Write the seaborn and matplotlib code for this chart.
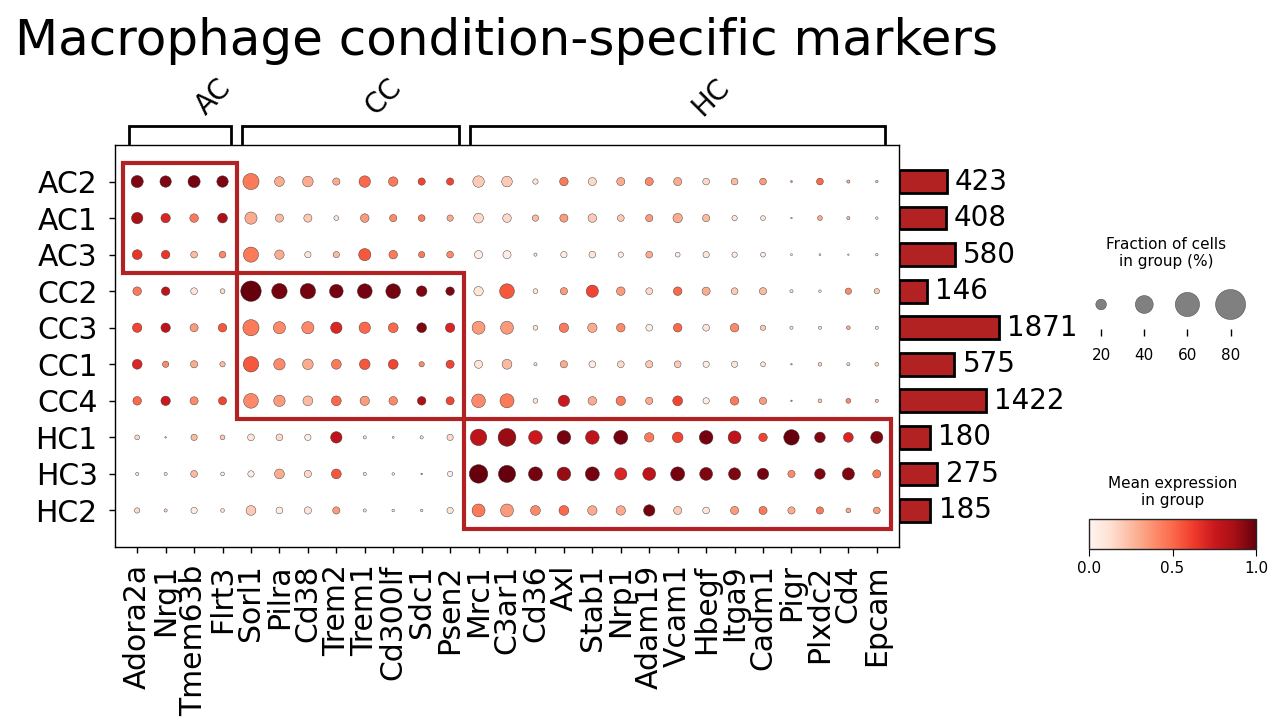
import numpy as np
import pandas as pd
import matplotlib
matplotlib.use('Agg')
import matplotlib.pyplot as plt
import matplotlib.patches as mpatches
import seaborn as sns

#----------------- data -----------------
genes = ['Adora2a', 'Nrg1', 'Tmem63b', 'Flrt3',
         'Sorl1', 'Pilra', 'Cd38', 'Trem2', 'Trem1', 'Cd300lf', 'Sdc1', 'Psen2',
         'Mrc1', 'C3ar1', 'Cd36', 'Axl', 'Stab1', 'Nrp1', 'Adam19', 'Vcam1',
         'Hbegf', 'Itga9', 'Cadm1', 'Pigr', 'Plxdc2', 'Cd4', 'Epcam']
gene_groups = ['AC', 'CC', 'HC']
gene_group_sizes = [4, 8, 15]

cell_groups = ['AC2', 'AC1', 'AC3', 'CC2', 'CC3', 'CC1', 'CC4', 'HC1', 'HC3', 'HC2']
cell_group_sizes = [3, 4, 3]
cell_counts = [423, 408, 580, 146, 1871, 575, 1422, 180, 275, 185]

# mean expression (scaled 0-1)
expr = [
    [0.95, 0.95, 0.97, 0.95, 0.45, 0.30, 0.30, 0.30, 0.50, 0.45, 0.60, 0.60, 0.20, 0.20, 0.10, 0.45, 0.15, 0.30, 0.40, 0.30, 0.15, 0.25, 0.35, 0.40, 0.50, 0.30, 0.20],
    [0.85, 0.70, 0.45, 0.85, 0.30, 0.25, 0.20, 0.10, 0.35, 0.40, 0.45, 0.30, 0.15, 0.15, 0.25, 0.35, 0.20, 0.20, 0.35, 0.30, 0.25, 0.10, 0.10, 0.20, 0.30, 0.25, 0.10],
    [0.65, 0.65, 0.25, 0.40, 0.45, 0.30, 0.10, 0.25, 0.55, 0.45, 0.45, 0.40, 0.05, 0.05, 0.10, 0.05, 0.10, 0.05, 0.30, 0.05, 0.10, 0.05, 0.05, 0.10, 0.10, 0.10, 0.10],
    [0.45, 0.80, 0.10, 0.15, 1.00, 0.97, 0.97, 0.97, 0.97, 0.97, 0.95, 0.95, 0.10, 0.55, 0.10, 0.35, 0.60, 0.35, 0.15, 0.50, 0.30, 0.20, 0.25, 0.10, 0.10, 0.40, 0.20],
    [0.60, 0.80, 0.35, 0.55, 0.45, 0.40, 0.40, 0.70, 0.50, 0.50, 0.95, 0.70, 0.35, 0.35, 0.10, 0.45, 0.30, 0.40, 0.05, 0.50, 0.10, 0.40, 0.20, 0.10, 0.10, 0.30, 0.10],
    [0.70, 0.40, 0.30, 0.25, 0.55, 0.40, 0.30, 0.45, 0.55, 0.60, 0.40, 0.60, 0.10, 0.25, 0.10, 0.30, 0.05, 0.15, 0.20, 0.20, 0.05, 0.10, 0.10, 0.30, 0.15, 0.15, 0.15],
    [0.50, 0.75, 0.40, 0.60, 0.40, 0.35, 0.25, 0.50, 0.35, 0.40, 0.85, 0.60, 0.40, 0.45, 0.10, 0.75, 0.30, 0.45, 0.30, 0.60, 0.05, 0.45, 0.35, 0.40, 0.20, 0.40, 0.20],
    [0.15, 0.30, 0.25, 0.20, 0.10, 0.15, 0.05, 0.80, 0.10, 0.10, 0.10, 0.15, 0.80, 0.90, 0.75, 0.97, 0.80, 0.97, 0.45, 0.60, 0.97, 0.80, 0.60, 1.00, 0.95, 0.70, 0.95],
    [0.10, 0.10, 0.25, 0.05, 0.05, 0.30, 0.15, 0.55, 0.10, 0.10, 0.50, 0.05, 1.00, 1.00, 0.97, 0.90, 0.97, 0.70, 0.80, 0.97, 0.95, 0.95, 0.97, 0.40, 0.95, 0.95, 0.45],
    [0.15, 0.15, 0.05, 0.10, 0.20, 0.05, 0.10, 0.35, 0.10, 0.10, 0.10, 0.10, 0.45, 0.35, 0.40, 0.50, 0.30, 0.30, 0.97, 0.20, 0.10, 0.35, 0.45, 0.30, 0.45, 0.30, 0.35],
]

# fraction of cells in group (%)
frac = [
    [24, 22, 24, 22, 35, 18, 20, 12, 22, 17, 12, 12, 22, 20, 8, 15, 14, 14, 14, 14, 11, 11, 11, 2, 11, 4, 3],
    [22, 17, 15, 18, 24, 14, 14, 7, 15, 12, 11, 10, 18, 15, 10, 14, 15, 11, 12, 17, 12, 8, 7, 1.5, 7, 4, 3],
    [18, 15, 11, 11, 32, 17, 10, 10, 24, 15, 10, 11, 14, 14, 4, 10, 11, 8, 11, 7, 10, 8, 7, 2, 2, 1.5, 3],
    [15, 15, 11, 7, 48, 33, 33, 28, 31, 31, 20, 15, 17, 31, 7, 12, 24, 15, 11, 15, 14, 11, 12, 4, 3, 10, 8],
    [17, 17, 14, 15, 35, 24, 24, 22, 22, 18, 18, 17, 26, 26, 7, 17, 17, 15, 11, 15, 11, 15, 8, 4, 4, 5, 4],
    [18, 10, 12, 8, 33, 22, 20, 18, 20, 18, 8, 14, 14, 18, 4, 12, 11, 11, 12, 11, 10, 10, 7, 1.5, 5, 4, 5],
    [15, 17, 14, 14, 31, 22, 18, 18, 17, 15, 15, 14, 28, 29, 7, 22, 15, 17, 12, 18, 10, 15, 12, 1.5, 5, 7, 4],
    [7, 1.5, 10, 7, 11, 11, 10, 22, 4, 2, 4, 10, 36, 40, 28, 28, 28, 29, 17, 20, 28, 26, 15, 33, 20, 18, 24],
    [4, 4, 11, 5, 10, 18, 12, 18, 4, 3, 1.5, 8, 42, 38, 29, 28, 29, 24, 26, 29, 26, 24, 22, 12, 20, 24, 14],
    [8, 4, 10, 5, 18, 11, 12, 12, 4, 3, 3, 10, 26, 26, 18, 18, 17, 17, 22, 14, 11, 14, 14, 12, 12, 7, 11],
]

legend_fracs = [20, 40, 60, 80]

#----------------- helpers -----------------
MAX_AREA = 467.0   # marker area (pt^2) of an 80% dot


def dot_area(f):
    return MAX_AREA * (np.asarray(f, dtype=float) / 80.0) ** 1.5


# long table for seaborn
rows = []
for r, cg in enumerate(cell_groups):
    for c, g in enumerate(genes):
        rows.append({'gene': g, 'group': cg, 'x': c + 0.5, 'y': r + 0.5,
                     'expr': expr[r][c], 'frac': frac[r][c]})
df = pd.DataFrame(rows)
df['area'] = dot_area(df['frac'])

sns.set_style('white')
plt.rcParams['font.family'] = ['DejaVu Sans']
plt.rcParams['text.color'] = 'black'
plt.rcParams['axes.labelcolor'] = 'black'
plt.rcParams['xtick.color'] = 'black'
plt.rcParams['ytick.color'] = 'black'

W, H = 1285, 725
fig = plt.figure(figsize=(W / 100, H / 100), dpi=100)


def px_axes(x0, y0, x1, y1):
    # pixel box (top-left origin) -> figure axes
    return fig.add_axes([x0 / W, 1 - y1 / H, (x1 - x0) / W, (y1 - y0) / H])


#----------------- main dot plot -----------------
ax = px_axes(115, 145, 899, 547)
sns.scatterplot(data=df, x='x', y='y', hue='expr', size='area',
                palette='Reds', hue_norm=(0, 1),
                sizes=(0, MAX_AREA), size_norm=(0, MAX_AREA),
                edgecolor='#333333', linewidth=0.3, legend=False, ax=ax, zorder=3)
n_genes = len(genes)
n_rows = len(cell_groups)
ax.set_xlim(-0.28, n_genes + 0.28)
ax.set_ylim(n_rows + 0.5, -0.5)
ax.set_xticks(np.arange(n_genes) + 0.5)
ax.set_xticklabels(genes, rotation=90, fontsize=21.5)
ax.set_yticks(np.arange(n_rows) + 0.5)
ax.set_yticklabels(cell_groups, fontsize=21.5)
ax.tick_params(axis='both', length=4.5, width=1, bottom=True, left=True, pad=8)
ax.set_xlabel('')
ax.set_ylabel('')
for sp in ax.spines.values():
    sp.set_linewidth(1)
    sp.set_color('black')

# highlight boxes for matching gene/cell groups
gx = np.concatenate([[0], np.cumsum(gene_group_sizes)])
gy = np.concatenate([[0], np.cumsum(cell_group_sizes)])
for i in range(len(gene_groups)):
    rect = mpatches.Rectangle((gx[i], gy[i]), gx[i + 1] - gx[i], gy[i + 1] - gy[i],
                              fill=False, edgecolor='#b22222', linewidth=3,
                              clip_on=False, zorder=5)
    ax.add_patch(rect)

#----------------- gene group brackets -----------------
bax = px_axes(115, 75, 899, 145)
bax.set_xlim(ax.get_xlim())
bax.set_ylim(0, 1)
bax.axis('off')
for i, lab in enumerate(gene_groups):
    left = gx[i] + 0.2
    right = gx[i + 1] - 0.2
    bax.plot([left, left, right, right], [0.02, 0.27, 0.27, 0.02],
             color='black', lw=2, solid_joinstyle='miter', clip_on=False)
    bax.text((gx[i] + gx[i + 1]) / 2 + 1.17, 0.69, lab, rotation=45,
             ha='center', va='center', fontsize=20)

#----------------- cell counts bars -----------------
cax_bar = px_axes(899, 145, 1060, 547)
sns.barplot(x=cell_counts, y=cell_groups, orient='h', color='#b22222',
            edgecolor='black', linewidth=2, width=0.62, saturation=1,
            ax=cax_bar)
cax_bar.set_xscale('function', functions=(np.sqrt, np.square))
cax_bar.set_xlim(0, (161 / 2.31) ** 2)
cax_bar.set_ylim(n_rows, -1)
for j, v in enumerate(cell_counts):
    cax_bar.annotate(str(v), (v, j), xytext=(6, 0), textcoords='offset points',
                     va='center', ha='left', fontsize=20, annotation_clip=False)
cax_bar.axis('off')

#----------------- size legend -----------------
sax = px_axes(1083, 280, 1250, 329)
sax.scatter(np.arange(len(legend_fracs)), [0.5] * len(legend_fracs),
            s=dot_area(legend_fracs), color='grey', edgecolor='#333333',
            linewidth=0.3, zorder=3)
sax.set_xlim(-0.42, len(legend_fracs) - 0.55)
sax.set_ylim(0, 1)
sax.set_xticks(np.arange(len(legend_fracs)))
sax.set_xticklabels([str(f) for f in legend_fracs], fontsize=11)
sax.set_yticks([])
sax.tick_params(axis='x', length=5, width=1, bottom=True, pad=9)
for sp in sax.spines.values():
    sp.set_visible(False)
sax.set_title('Fraction of cells\nin group (%)', fontsize=11, pad=10)

#----------------- colour bar -----------------
colax = px_axes(1089, 519, 1256, 549)
sm = plt.cm.ScalarMappable(cmap='Reds', norm=plt.Normalize(0, 1))
cb = fig.colorbar(sm, cax=colax, orientation='horizontal', ticks=[0, 0.5, 1.0])
cb.ax.tick_params(labelsize=11, length=5)
cb.outline.set_linewidth(1)
colax.set_title('Mean expression\nin group', fontsize=11, pad=10)

#----------------- title -----------------
fig.text(15 / W, 1 - 55 / H, 'Macrophage condition-specific markers',
         fontsize=36, ha='left', va='baseline')

fig.savefig('out.png', dpi=100)
